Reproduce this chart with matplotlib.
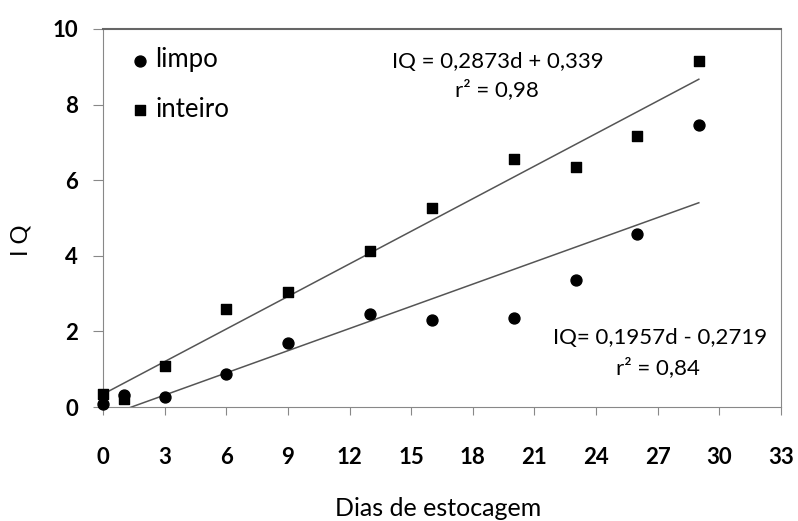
import matplotlib
matplotlib.use("Agg")
import matplotlib.pyplot as plt
import numpy as np

# dias de estocagem
dias = [0, 1, 3, 6, 9, 13, 16, 20, 23, 26, 29]
limpo = [0.07, 0.33, 0.26, 0.88, 1.68, 2.45, 2.29, 2.35, 3.37, 4.57, 7.45]
inteiro = [0.34, 0.20, 1.08, 2.58, 3.03, 4.14, 5.26, 6.56, 6.35, 7.16, 9.15]

# regressoes lineares (coeficientes do grafico)
a_inteiro, b_inteiro = 0.2873, 0.339
a_limpo, b_limpo = 0.1957, -0.2719

W, H = 798, 521
plt.rcParams['font.family'] = ['Lato', 'DejaVu Sans']

fig = plt.figure(figsize=(W/100, H/100), dpi=100)
ax = fig.add_axes([103/W, 1 - 407/H, 678/W, 378/H])

def fx(px):
    return px / W

def fy(py):
    return 1 - py / H

ax.scatter(dias, limpo, marker='o', s=62, color='black', label='limpo', zorder=3, clip_on=False)
ax.scatter(dias, inteiro, marker='s', s=58, color='black', label='inteiro', zorder=3, clip_on=False)

xl = np.array([0, 29])
ax.plot(xl, a_inteiro*xl + b_inteiro, color='#555555', lw=1.1)
ax.plot(xl, a_limpo*xl + b_limpo, color='#555555', lw=1.1)

ax.set_xlim(0, 33)
ax.set_ylim(0, 10)
ax.set_xticks(range(0, 34, 3))
ax.set_yticks(range(0, 11, 2))
for lab in ax.get_xticklabels() + ax.get_yticklabels():
    lab.set_fontweight('bold')
    lab.set_fontsize(16)
ax.tick_params(axis='x', direction='out', length=6, color='#888888', pad=23)
ax.tick_params(axis='y', direction='out', length=7, color='#888888', pad=11)
for s in ['left', 'bottom', 'right']:
    ax.spines[s].set_color('#888888')
ax.spines['top'].set_color('#666666')
ax.spines['top'].set_linewidth(1.5)

ax.set_xlabel('Dias de estocagem', fontsize=18)
ax.xaxis.set_label_coords((438 - 103)/678, (407 - 508)/378)
ax.xaxis.label.set_va('center')
ax.set_ylabel('I Q', fontsize=17)
ax.yaxis.set_label_coords((21 - 103)/678, (407 - 240)/378)
ax.yaxis.label.set_va('center')

ax.legend(loc='upper left', frameon=False, fontsize=18.5, handlelength=0.6,
          handletextpad=0.3, labelspacing=0.95, borderaxespad=0,
          bbox_to_anchor=(fx(122), fy(37)), bbox_transform=fig.transFigure)

kw = dict(transform=fig.transFigure, fontsize=16, ha='center', va='center')
ax.text(fx(498), fy(62), 'IQ = 0,2873d + 0,339', **kw)
ax.text(fx(497), fy(90), 'r² = 0,98', **kw)
ax.text(fx(660), fy(338), 'IQ= 0,1957d - 0,2719', **kw)
ax.text(fx(658), fy(368), 'r² = 0,84', **kw)

fig.savefig('out.png', dpi=100)
